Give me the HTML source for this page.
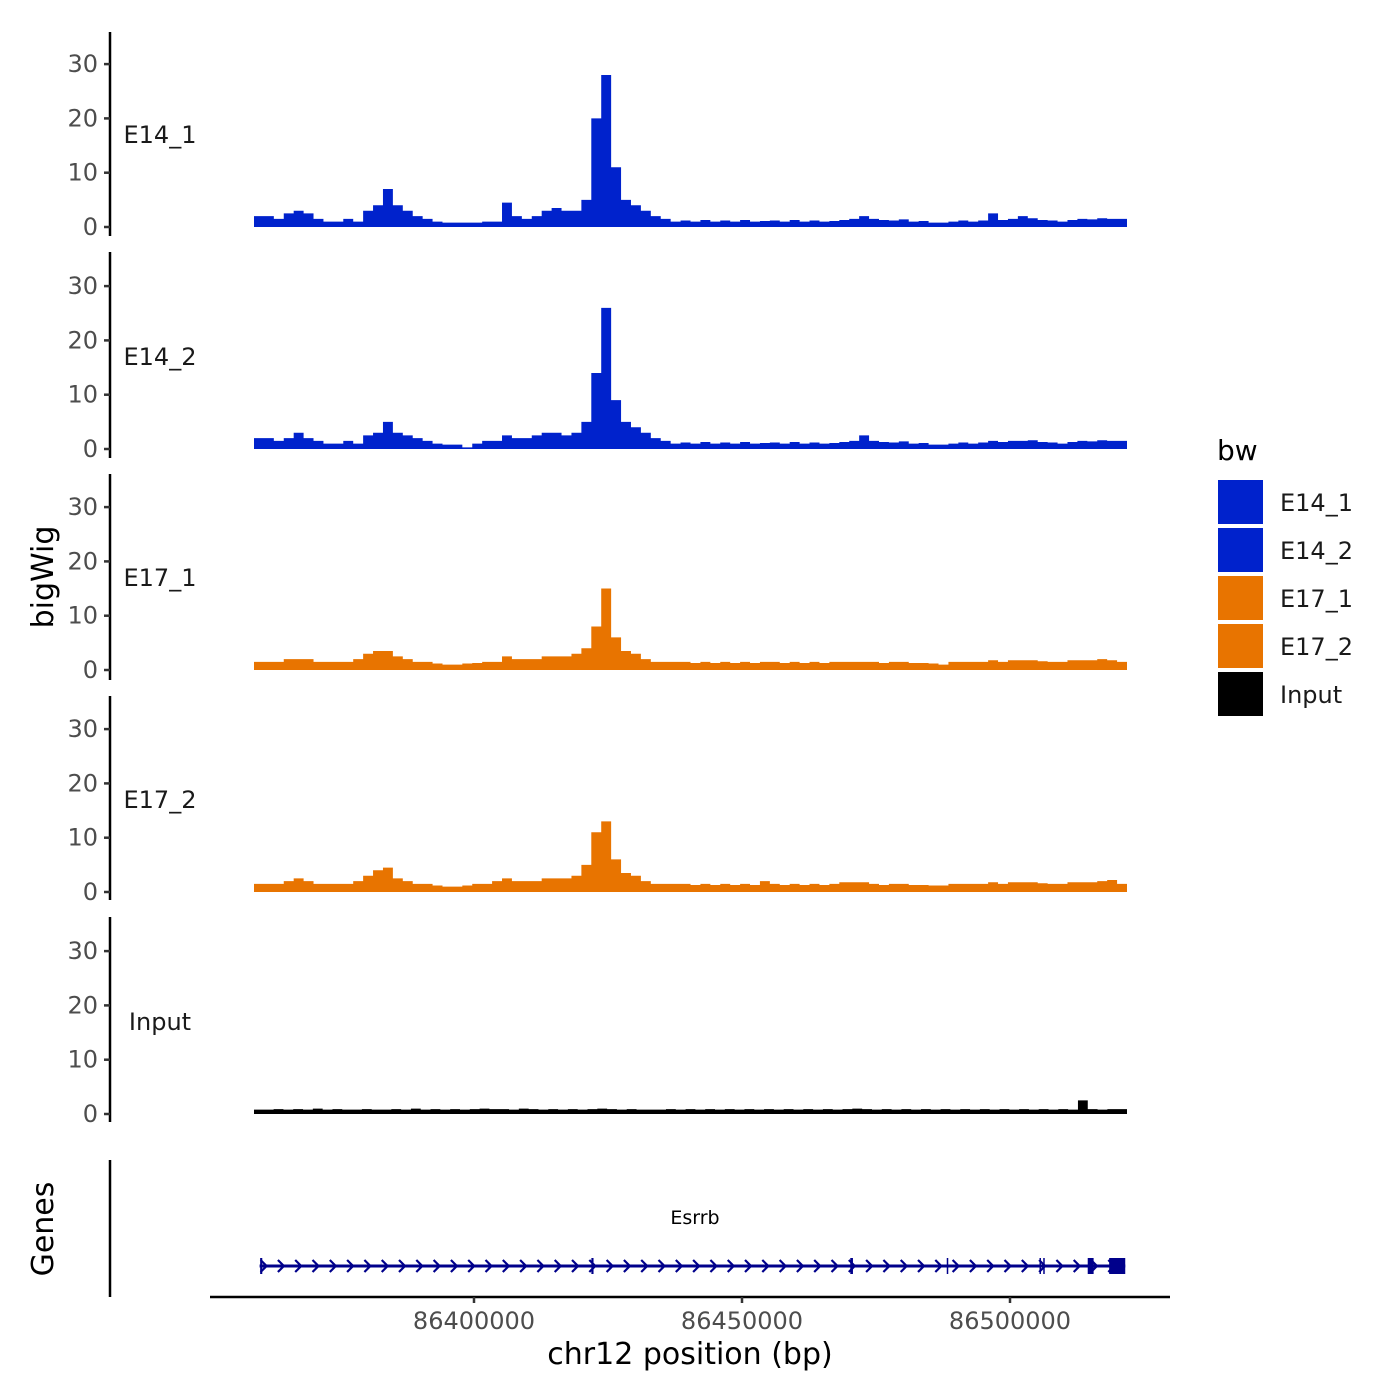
<!DOCTYPE html>
<html><head><meta charset="utf-8"><style>
body{margin:0;background:#fff}
svg{display:block;font-family:"DejaVu Sans","Liberation Sans",sans-serif}
</style></head><body>
<svg id="c" width="1400" height="1400" viewBox="0 0 1400 1400"></svg>
<script>
const trackNames=["E14_1","E14_2","E17_1","E17_2","Input"];
const trackColors=["#0022cc","#0022cc","#e87400","#e87400","#000000"];
const yTicks=[0,10,20,30];
const xTicks=[86400000,86450000,86500000];
const xTickLabels=["86400000","86450000","86500000"];
const e14_1=[2,2,1.5,2.5,3,2.5,1.5,1,1,1.5,1,3,4,7,4,3,2,1.5,1,0.8,0.8,0.8,0.8,1,1,4.5,2,1.5,2,3,3.5,3,3,5,20,28,11,5,4,3,2,1.5,1,
1.2,1,1.3,1,1.2,1,1.3,1,1.1,1.2,1,1.3,1,1.2,1,1.1,1.3,1.5,2,1.5,1.3,1.2,1.4,1,1.1,0.8,0.8,1,1.2,1,1.2,2.5,1.3,1.5,2,1.6,1.3,1.2,1,1.3,1.5,1.4,1.6,1.5,1.5];
const e14_2=[2,2,1.5,2,3,2,1.5,1,1,1.5,1,2.5,3,5,3,2.5,2,1.5,1,0.8,0.8,0.3,1,1.5,1.5,2.5,2,2,2.5,3,3,2.5,3,5,14,26,9,5,4,3,2,1.5,1,
1.2,1,1.3,1,1.2,1,1.3,1,1.1,1.2,1,1.3,1,1.2,1,1.1,1.3,1.5,2.5,1.5,1.3,1.2,1.4,1,1.1,0.8,0.8,1,1.2,1,1.2,1.5,1.3,1.5,1.5,1.6,1.3,1.2,1,1.3,1.5,1.4,1.6,1.5,1.5];
const e17_1=[1.5,1.5,1.5,2,2,2,1.5,1.5,1.5,1.5,2,3,3.5,3.5,2.5,2,1.5,1.5,1.2,1,1,1.2,1.3,1.5,1.5,2.5,2,2,2,2.5,2.5,2.5,3,4,8,15,6,3.5,3,2,1.5,1.5,1.5,
1.5,1.3,1.5,1.3,1.5,1.3,1.5,1.3,1.5,1.5,1.3,1.5,1.3,1.5,1.3,1.5,1.5,1.5,1.5,1.5,1.3,1.5,1.5,1.3,1.3,1.2,1,1.5,1.5,1.5,1.5,1.8,1.5,1.8,1.8,1.8,1.6,1.5,1.5,1.8,1.8,1.8,2,1.8,1.5];
const e17_2=[1.5,1.5,1.5,2,2.5,2,1.5,1.5,1.5,1.5,2,3,4,4.5,2.5,2,1.5,1.5,1.2,1,1,1.2,1.5,1.5,2,2.5,2,2,2,2.5,2.5,2.5,3,5,11,13,6,3.5,3,2,1.5,1.5,1.5,
1.5,1.3,1.5,1.3,1.5,1.3,1.5,1.3,2,1.5,1.3,1.5,1.3,1.5,1.3,1.5,1.8,1.8,1.8,1.5,1.3,1.5,1.5,1.3,1.3,1.2,1.2,1.5,1.5,1.5,1.5,1.8,1.5,1.8,1.8,1.8,1.6,1.5,1.5,1.8,1.8,1.8,2,2.2,1.5];
const input=[0.8,0.8,0.9,0.8,0.9,0.8,1,0.8,0.9,0.8,0.8,0.9,0.8,0.8,0.9,0.8,1,0.8,0.9,0.8,0.9,0.8,0.9,1,0.9,0.9,0.8,1,0.9,0.8,0.9,0.8,0.9,0.8,0.9,1,0.9,0.8,0.9,0.8,0.8,0.8,0.9,
0.8,0.9,0.8,0.9,0.8,0.9,0.8,0.9,0.8,0.9,0.8,0.9,0.8,0.9,0.8,0.9,0.8,0.9,1,0.9,0.8,0.9,0.8,0.9,0.8,0.9,0.8,0.9,0.8,0.9,0.8,0.9,0.8,0.9,0.8,0.9,0.8,0.9,0.8,0.9,0.8,2.5,0.9,0.8,0.9,0.9];
const trackData=[e14_1,e14_2,e17_1,e17_2,input];
const geneName="Esrrb";
const geneStart=86360000, geneEnd=86521500;
const exonStarts=[86360100,86421900,86470200,86488200,86505500,86506200,86514500,86518500];
const exonEnds=[86360500,86422300,86470700,86488400,86505700,86506400,86515600,86521500];

const svg=document.getElementById('c');
const NS="http://www.w3.org/2000/svg";
function mk(t,a,p){const e=document.createElementNS(NS,t);for(const k in a)e.setAttribute(k,a[k]);(p||svg).appendChild(e);return e;}
const xMin=86358955, xMax=86521828;
const X=v=>254+(v-xMin)/(xMax-xMin)*873;
const base0=[227,449,670,892,1114];
const Y=(v,t)=>base0[t]-v*5.43;
const axisTop=[32,252,474,696,917], axisBot=[236,458,680,900,1122];

trackNames.forEach((nm,t)=>{
  const g=mk('g',{});
  
  
  const ax=mk('line',{x1:110,x2:110,y1:axisTop[t],y2:axisBot[t],stroke:'#000','stroke-width':2.5},g);
  
  
  yTicks.forEach(v=>{
    const tk=mk('line',{x1:104,x2:110,y1:Y(v,t),y2:Y(v,t),stroke:'#333','stroke-width':2.5},g);
    
    
    const tl=mk('text',{x:98,y:Y(v,t)+8,'text-anchor':'end','font-size':24,fill:'#4d4d4d'},g);
    tl.textContent=v;
    
    
  });
  const lb=mk('text',{x:160,y:Y(0,t)-84,'text-anchor':'middle','font-size':24,fill:'#1a1a1a'},g);
  lb.textContent=nm;
  
  
  const d=trackData[t], n=d.length, w=(xMax-xMin)/n;
  let p='M'+X(xMin)+','+Y(0,t);
  d.forEach((v,i)=>{p+=' L'+X(xMin+i*w)+','+Y(v,t)+' L'+X(xMin+(i+1)*w)+','+Y(v,t);});
  p+=' L'+X(xMax)+','+Y(0,t)+' Z';
  const ar=mk('path',{d:p,fill:trackColors[t]},g);
  
  
});

const gg=mk('g',{});


const gax=mk('line',{x1:110,x2:110,y1:1160,y2:1297,stroke:'#000','stroke-width':2.5},gg);


const gy=1266;
const gl=mk('line',{x1:X(geneStart),x2:X(geneEnd),y1:gy,y2:gy,stroke:'#00008b','stroke-width':3},gg);


for(let x=X(geneStart)+4;x<X(geneEnd)-10;x+=17.3){
  const a=mk('path',{d:`M${x-3},${gy-6} L${x+3},${gy} L${x-3},${gy+6}`,stroke:'#00008b','stroke-width':2.2,fill:'none'},gg);
  
  
}
exonStarts.forEach((s,i)=>{
  const x1=X(s),x2=Math.max(X(exonEnds[i]),x1+1.5);
  const h=16;
  const r=mk('rect',{x:x1,y:gy-h/2,width:x2-x1,height:h,fill:'#00008b'},gg);
  
  
});
const gn=mk('text',{x:695,y:1224,'text-anchor':'middle','font-size':19,fill:'#000'},gg);
gn.textContent=geneName;



const xa=mk('line',{x1:210,x2:1170,y1:1297,y2:1297,stroke:'#000','stroke-width':2.5});


xTicks.forEach((v,i)=>{
  const tk=mk('line',{x1:X(v),x2:X(v),y1:1297,y2:1303,stroke:'#333','stroke-width':2.5});
  
  
  const tl=mk('text',{x:X(v),y:1329,'text-anchor':'middle','font-size':24,fill:'#4d4d4d'});
  tl.textContent=xTickLabels[i];
  
  
});
const xt=mk('text',{x:690,y:1364,'text-anchor':'middle','font-size':30,fill:'#000'});
xt.textContent='chr12 position (bp)';


const yt=mk('text',{x:0,y:0,'text-anchor':'middle','font-size':30,fill:'#000',transform:'translate(53,577) rotate(-90)'});
yt.textContent='bigWig';


const gt=mk('text',{x:0,y:0,'text-anchor':'middle','font-size':30,fill:'#000',transform:'translate(53,1229) rotate(-90)'});
gt.textContent='Genes';



const lg=mk('g',{});


const ltt=mk('text',{x:1217,y:460,'font-size':28,fill:'#000'},lg);
ltt.textContent='bw';


trackNames.forEach((nm,i)=>{
  const y=480+i*48;
  const r=mk('rect',{x:1218,y:y,width:45,height:44,fill:trackColors[i]},lg);
  
  
  const tx=mk('text',{x:1280,y:y+31,'font-size':24,fill:'#1a1a1a'},lg);
  tx.textContent=nm;
  
  
});
</script>
</body></html>
